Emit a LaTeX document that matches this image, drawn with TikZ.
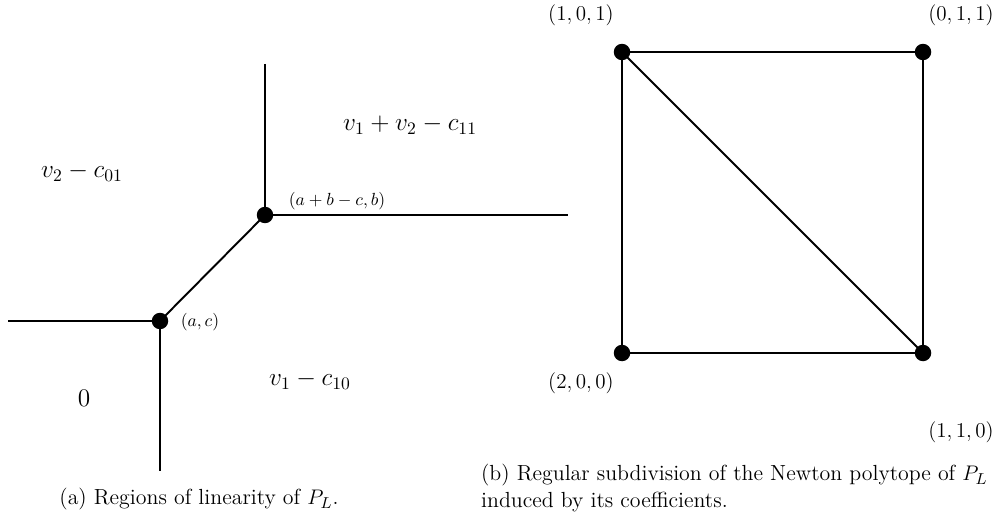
\documentclass[tikz,border=0pt]{standalone}
\begin{document}
\begin{tikzpicture}[x=0.02cm,y=-0.02cm,
  edge/.style={line width=1.1pt},
  dot/.style={circle,fill=black,inner sep=0pt,minimum size=0.33cm},
  biglab/.style={font=\fontsize{14.4}{17}\selectfont},
  midlab/.style={font=\fontsize{12.4}{15}\selectfont},
  smalllab/.style={font=\fontsize{10}{12}\selectfont},
  caplab/.style={font=\fontsize{12.45}{15}\selectfont,inner sep=0pt}]
\useasboundingbox (0,0) rectangle (1001,517);
% left diagram
\node[dot] (ac) at (160,321) {};
\node[dot] (abc) at (265,215) {};
\coordinate (l) at (8,321);
\coordinate (d) at (160,471);
\coordinate (u) at (265,64);
\coordinate (r) at (568,215);
\draw[edge] (l) -- (ac.center) -- (d);
\draw[edge] (ac.center) -- (abc.center);
\draw[edge] (u) -- (abc.center) -- (r);
\node[biglab] (t1) at (82,172) {$v_2-c_{01}$};
\node[biglab] (t2) at (410,125) {$v_1+v_2-c_{11}$};
\node[biglab] (t3) at (310,380) {$v_1-c_{10}$};
\node[biglab] (t4) at (84,398) {$0$};
\node[smalllab] (lac) at (200,322) {$(a,c)$};
\node[smalllab] (labc) at (337,201) {$(a+b-c,b)$};
\node[caplab] (capa) at (199,499) {(a) Regions of linearity of $P_L$.};
% right diagram
\node[dot] (p101) at (622,52) {};
\node[dot] (p011) at (923,52) {};
\node[dot] (p200) at (622,353) {};
\node[dot] (p110) at (923,353) {};
\draw[edge] (p101.center) -- (p011.center) -- (p110.center) -- (p200.center) -- cycle;
\draw[edge] (p101.center) -- (p110.center);
\node[midlab] (l101) at (581,15) {$(1,0,1)$};
\node[midlab] (l011) at (961,15) {$(0,1,1)$};
\node[midlab] (l200) at (581,383) {$(2,0,0)$};
\node[midlab] (l110) at (961,432) {$(1,1,0)$};
\node[caplab,anchor=east] (capb1) at (988,475) {(b) Regular subdivision of the Newton polytope of $P_L$};
\node[caplab,anchor=west] (capb2) at (capb1.west |- 0,502) {induced by its coefficients.};
\end{tikzpicture}
\end{document}
